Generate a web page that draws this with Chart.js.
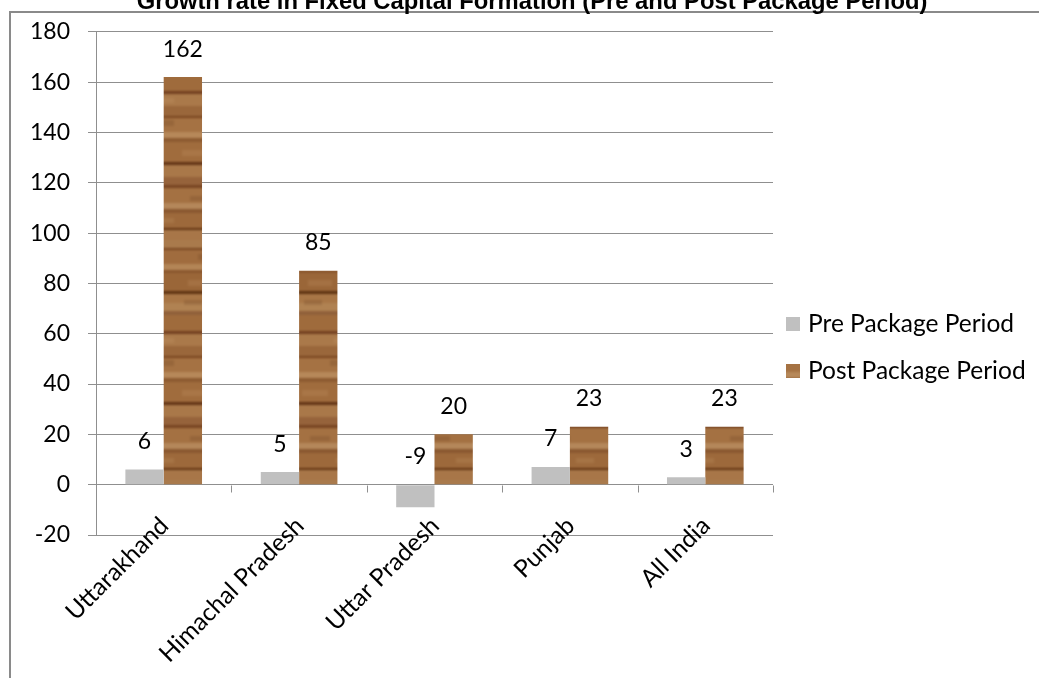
<!DOCTYPE html>
<html>
<head>
<meta charset="utf-8">
<script src="https://cdn.jsdelivr.net/npm/chart.js@4.4.1/dist/chart.umd.min.js"></script>
<style>
  html, body { margin: 0; padding: 0; background: #fff; }
  #wrap { width: 1039px; height: 678px; position: relative; }
  canvas { display: block; }
</style>
</head>
<body>
<div id="wrap"><canvas id="chart" width="1039" height="678"></canvas></div>
<script>
// ---- data ----
const chartTitle = 'Growth rate in Fixed Capital Formation (Pre and Post Package Period)';
const categories = ['Uttarakhand', 'Himachal Pradesh', 'Uttar Pradesh', 'Punjab', 'All India'];
const seriesNames = ['Pre Package Period', 'Post Package Period'];
const prePackage = [6, 5, -9, 7, 3];
const postPackage = [162, 85, 20, 23, 23];
const yMin = -20;
const yMax = 180;
const yStep = 20;

// ---- styling ----
const TEXT_FONT = 'Lato, "Open Sans", sans-serif';
const GRID = '#8f8f8f';
const FRAME = '#8a8a8a';
const PRE_COLOR = '#c0c0c0';

// wood-grain fill for the post-package bars
function woodPattern() {
  const W = 60, H = 240;
  const raw = document.createElement('canvas');
  raw.width = W; raw.height = H;
  const g = raw.getContext('2d');
  g.fillStyle = '#9e6b3d';
  g.fillRect(0, 0, W, H);
  const bands = [
    [0, 8, '#a97a4c'], [8, 2, '#7a4823'], [10, 14, '#a06c3e'], [24, 6, '#b38556'],
    [30, 3, '#8a572e'], [33, 18, '#9a6638'], [51, 3, '#5e3312'], [54, 9, '#a87646'],
    [63, 8, '#b08252'], [71, 4, '#90603a'], [75, 16, '#9f6b3c'], [91, 3, '#734020'],
    [94, 12, '#aa794a'], [106, 10, '#9a673b'], [116, 2, '#7a4620'], [118, 14, '#a57243'],
    [132, 6, '#b68859'], [138, 4, '#8d5b31'], [142, 20, '#a06c3d'], [162, 3, '#623416'],
    [165, 12, '#a97849'], [177, 8, '#96633b'], [185, 3, '#784522'], [188, 15, '#a47142'],
    [203, 6, '#b4875a'], [209, 4, '#8a5830'], [213, 15, '#9d693b'], [228, 2, '#643614'],
    [230, 10, '#a87648']
  ];
  bands.forEach(([y, h, c]) => { g.fillStyle = c; g.fillRect(0, y, W, h); });
  // knots and lighter streaks across the grain
  g.fillStyle = 'rgba(90,50,20,0.18)';
  [[18, 14, 22, 6], [4, 60, 18, 5], [30, 120, 24, 6], [10, 196, 20, 5]].forEach(r => g.fillRect(...r));
  g.fillStyle = 'rgba(215,175,125,0.16)';
  [[8, 40, 24, 6], [34, 98, 20, 5], [2, 150, 26, 6], [36, 218, 18, 5]].forEach(r => g.fillRect(...r));

  // tile 3x3 first, then blur once, so the repeat edges stay seamless
  const tiled = document.createElement('canvas');
  tiled.width = W * 3; tiled.height = H * 3;
  const t = tiled.getContext('2d');
  for (let i = 0; i < 3; i++) for (let j = 0; j < 3; j++) t.drawImage(raw, i * W, j * H);
  const soft = document.createElement('canvas');
  soft.width = W; soft.height = H;
  const s = soft.getContext('2d');
  s.filter = 'blur(0.9px)';
  s.drawImage(tiled, -W, -H);
  return document.getElementById('chart').getContext('2d').createPattern(soft, 'repeat');
}

// outer frame and the title text
const frameAndTitle = {
  id: 'frameAndTitle',
  beforeDraw(chart) {
    const ctx = chart.ctx;
    ctx.save();
    ctx.fillStyle = '#fff';
    ctx.fillRect(0, 0, chart.width, chart.height);
    ctx.strokeStyle = FRAME;
    ctx.lineWidth = 2;
    ctx.beginPath();
    ctx.moveTo(10, chart.height);
    ctx.lineTo(10, 12);
    ctx.lineTo(chart.width, 12);
    ctx.stroke();
    ctx.restore();
  },
  afterDraw(chart) {
    const ctx = chart.ctx;
    ctx.save();
    ctx.font = 'bold 23.8px "Liberation Sans", Arial, sans-serif';
    ctx.fillStyle = '#000';
    ctx.textAlign = 'center';
    ctx.textBaseline = 'alphabetic';
    ctx.fillText(chartTitle, 532, 9);
    ctx.restore();
  }
};

// category tick marks hanging below the zero line, and the slanted category names
const categoryAxis = {
  id: 'categoryAxis',
  afterDatasetsDraw(chart) {
    const x = chart.scales.x, y = chart.scales.y;
    const y0 = Math.round(y.getPixelForValue(0)) + 0.5;
    const ctx = chart.ctx;
    ctx.save();
    ctx.strokeStyle = GRID;
    ctx.lineWidth = 1;
    ctx.beginPath();
    for (let i = 1; i <= categories.length; i++) {
      const px = Math.round(x.getPixelForValue(i - 0.5)) + 0.5;
      ctx.moveTo(px, y0);
      ctx.lineTo(px, y0 + 7);
    }
    ctx.stroke();

    const labelTop = y.getPixelForValue(yMin) - 22;
    ctx.font = '24.5px ' + TEXT_FONT;
    ctx.fillStyle = '#000';
    ctx.textAlign = 'right';
    ctx.textBaseline = 'top';
    x.getLabels().forEach((name, i) => {
      ctx.save();
      ctx.translate(x.getPixelForValue(i) - 8, labelTop);
      ctx.rotate(-Math.PI / 4);
      ctx.fillText(name, 0, 0);
      ctx.restore();
    });
    ctx.restore();
  }
};

// value labels above each bar
const valueLabels = {
  id: 'valueLabels',
  afterDatasetsDraw(chart) {
    const ctx = chart.ctx, y = chart.scales.y;
    ctx.save();
    ctx.font = '23px ' + TEXT_FONT;
    ctx.fillStyle = '#000';
    ctx.textAlign = 'center';
    ctx.textBaseline = 'middle';
    chart.data.datasets.forEach((ds, i) => {
      chart.getDatasetMeta(i).data.forEach((bar, j) => {
        const v = ds.data[j];
        const top = y.getPixelForValue(Math.max(v, 0));
        ctx.fillText(String(v), bar.x, top - 28);
      });
    });
    ctx.restore();
  }
};

// legend on the right
const sideLegend = {
  id: 'sideLegend',
  afterDraw(chart) {
    const ctx = chart.ctx;
    const rows = [324, 371];
    ctx.save();
    ctx.font = '24.5px ' + TEXT_FONT;
    ctx.textAlign = 'left';
    ctx.textBaseline = 'middle';
    chart.data.datasets.forEach((ds, i) => {
      const cy = rows[i];
      ctx.fillStyle = ds.backgroundColor;
      ctx.fillRect(786, cy - 7, 14, 14);
      ctx.fillStyle = '#000';
      ctx.fillText(ds.label, 808, cy);
    });
    ctx.restore();
  }
};

const wood = woodPattern();

new Chart(document.getElementById('chart'), {
  type: 'bar',
  data: {
    labels: categories,
    datasets: [
      { label: seriesNames[0], data: prePackage, backgroundColor: PRE_COLOR, borderWidth: 0 },
      { label: seriesNames[1], data: postPackage, backgroundColor: wood, borderWidth: 0 }
    ]
  },
  options: {
    responsive: false,
    animation: false,
    devicePixelRatio: 1,
    layout: { padding: { top: 28, right: 266, bottom: 0, left: 0 } },
    categoryPercentage: 0.566,
    barPercentage: 1,
    plugins: {
      legend: { display: false },
      title: { display: false },
      tooltip: { enabled: false }
    },
    scales: {
      x: {
        grid: { display: false },
        border: { display: false },
        ticks: { display: false },
        afterFit(scale) { scale.height = 143; }
      },
      y: {
        min: yMin,
        max: yMax,
        ticks: {
          stepSize: yStep,
          padding: 18,
          color: '#000',
          font: { family: TEXT_FONT, size: 23 }
        },
        grid: { color: GRID, lineWidth: 1, tickLength: 8, tickColor: GRID },
        border: { display: true, color: GRID, width: 1 },
        afterFit(scale) { scale.width = 96; }
      }
    }
  },
  plugins: [frameAndTitle, categoryAxis, valueLabels, sideLegend]
});
</script>
</body>
</html>
